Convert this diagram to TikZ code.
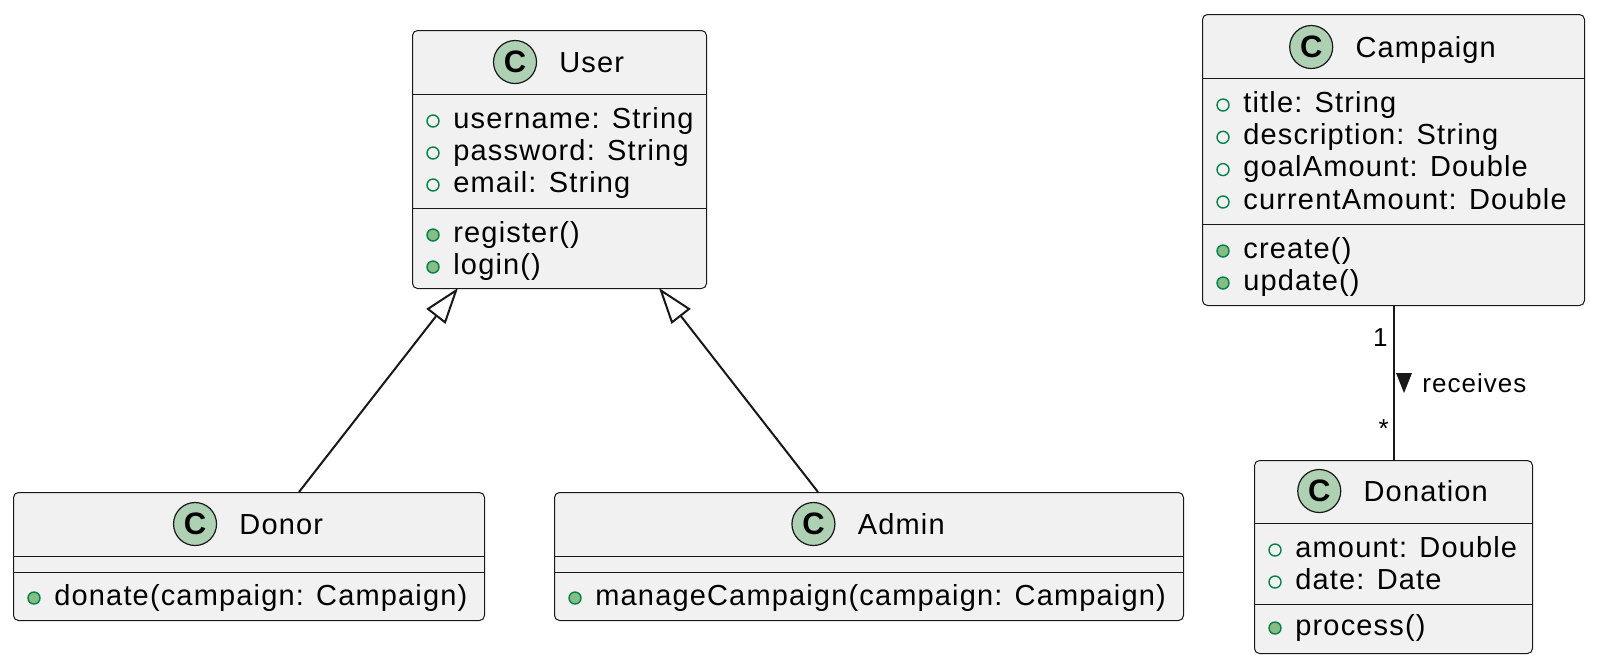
\documentclass[tikz,border=0pt]{standalone}
\usepackage{fontspec}
\setmainfont{Liberation Sans}[LetterSpace=4]
\usetikzlibrary{arrows.meta,calc,positioning}
\definecolor{umlline}{HTML}{181818}
\definecolor{umlfill}{HTML}{F1F1F1}
\definecolor{spotfill}{HTML}{ADD1B2}
\definecolor{visgreen}{HTML}{038048}
\definecolor{visfill}{HTML}{84BE84}
\tikzset{
  classbox/.style={draw=umlline, fill=umlfill, line width=0.5pt, rounded corners=2.5pt, inner sep=0pt, anchor=north west},
  sep/.style={draw=umlline, line width=0.5pt},
  spotC/.style={circle, draw=umlline, fill=spotfill, line width=0.6pt, minimum size=21.5pt, inner sep=0pt, font=\fontsize{15.5}{15.5}\selectfont\bfseries},
  classname/.style={anchor=base, inner sep=0pt, font=\fontsize{14.5}{17}\selectfont},
  member/.style={anchor=base west, inner sep=0pt, text height=7pt, text depth=0pt, font=\fontsize{14.5}{17}\selectfont},
  field/.style={circle, draw=visgreen, line width=0.7pt, minimum size=6pt, inner sep=0pt, label distance=6.65pt},
  attr/.style={member, label={[field]left:}},
  op/.style={member, label={[field, fill=visfill]left:}},
  lbl/.style={inner sep=0pt, font=\fontsize{13}{15}\selectfont},
  extends/.style={draw=umlline, line width=1pt, -{Triangle[open, fill=white, length=18pt, width=12pt, line width=1pt]}},
  assoc/.style={draw=umlline, line width=1pt}
}
\begin{document}
\begin{tikzpicture}[x=0.5pt, y=-0.5pt]
    \useasboundingbox (0,0) rectangle (1598,666);

    %% User
    \node[classbox, minimum width=147pt, minimum height=129pt] (user) at (412,30) {};
    \node[classname] (userName) at (591.75,72) {User};
    \node[spotC] (userSpot) at ($(userName.base west)+(-44,-10)$) {C};
    \draw[sep] ($(user.north west)+(0,64)$) -- ($(user.north east)+(0,64)$);
    \draw[sep] ($(user.north west)+(0,178)$) -- ($(user.north east)+(0,178)$);
    \node[attr] (userA1) at (453,128) {username: String};
    \node[attr] (userA2) at (453,160) {password: String};
    \node[attr] (userA3) at (453,192) {email: String};
    \node[op] (userM1) at (453,242) {register()};
    \node[op] (userM2) at (453,274) {login()};

    %% Campaign
    \node[classbox, minimum width=191pt, minimum height=145.5pt] (campaign) at (1202,14) {};
    \node[classname] (campaignName) at (1425.75,57) {Campaign};
    \node[spotC] (campaignSpot) at ($(campaignName.base west)+(-44,-10)$) {C};
    \draw[sep] ($(campaign.north west)+(0,64)$) -- ($(campaign.north east)+(0,64)$);
    \draw[sep] ($(campaign.north west)+(0,210)$) -- ($(campaign.north east)+(0,210)$);
    \node[attr] (campaignA1) at (1243,112) {title: String};
    \node[attr] (campaignA2) at (1243,144.3) {description: String};
    \node[attr] (campaignA3) at (1243,176.6) {goalAmount: Double};
    \node[attr] (campaignA4) at (1243,209) {currentAmount: Double};
    \node[op] (campaignM1) at (1243,258) {create()};
    \node[op] (campaignM2) at (1243,290) {update()};

    %% Donation
    \node[classbox, minimum width=139pt, minimum height=96.5pt] (donation) at (1254,460) {};
    \node[classname] (donationName) at (1425.75,501) {Donation};
    \node[spotC] (donationSpot) at ($(donationName.base west)+(-44,-10)$) {C};
    \draw[sep] ($(donation.north west)+(0,63)$) -- ($(donation.north east)+(0,63)$);
    \draw[sep] ($(donation.north west)+(0,144)$) -- ($(donation.north east)+(0,144)$);
    \node[attr] (donationA1) at (1295,557) {amount: Double};
    \node[attr] (donationA2) at (1295,589) {date: Date};
    \node[op] (donationM1) at (1295,635) {process()};

    %% Donor
    \node[classbox, minimum width=235.5pt, minimum height=64pt] (donor) at (13,492) {};
    \node[classname] (donorName) at (281.25,534) {Donor};
    \node[spotC] (donorSpot) at ($(donorName.base west)+(-44,-10)$) {C};
    \draw[sep] ($(donor.north west)+(0,64)$) -- ($(donor.north east)+(0,64)$);
    \draw[sep] ($(donor.north west)+(0,80)$) -- ($(donor.north east)+(0,80)$);
    \node[op] (donorM1) at (54,605) {donate(campaign: Campaign)};

    %% Admin
    \node[classbox, minimum width=314.5pt, minimum height=64pt] (admin) at (554,492) {};
    \node[classname] (adminName) at (901.25,534) {Admin};
    \node[spotC] (adminSpot) at ($(adminName.base west)+(-44,-10)$) {C};
    \draw[sep] ($(admin.north west)+(0,64)$) -- ($(admin.north east)+(0,64)$);
    \draw[sep] ($(admin.north west)+(0,80)$) -- ($(admin.north east)+(0,80)$);
    \node[op] (adminM1) at (595,605) {manageCampaign(campaign: Campaign)};

    %% generalisation
    \coordinate (userL) at (458,288);
    \coordinate (userR) at (659,288);
    \coordinate (donorTop) at (299,492);
    \coordinate (adminTop) at (818,492);
    \draw[extends] (donorTop) -- (userL);
    \draw[extends] (adminTop) -- (userR);

    %% association
    \draw[assoc] (campaign.south) -- (donation.north);
    \node[lbl, anchor=base east] (multOne) at (1388,346) {1};
    \node[lbl, anchor=base east] (multMany) at (1389,437) {*};
    \node[lbl, anchor=base west] (receives) at (1422,392) {receives};
    \fill[umlline] (1396,373) -- (1412,373) -- (1404,393) -- cycle; %% reading direction
\end{tikzpicture}
\end{document}
